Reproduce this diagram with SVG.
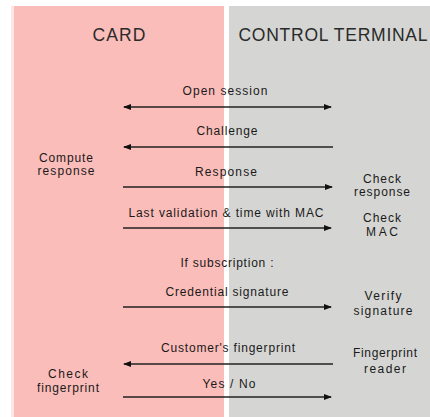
<svg xmlns="http://www.w3.org/2000/svg" width="430" height="417" viewBox="0 0 430 417">
<style>
.t{font-family:"Liberation Sans",Arial,sans-serif;font-size:12px;fill:#1a1a1a;text-anchor:middle}
.h{font-family:"Liberation Sans",Arial,sans-serif;font-size:17.5px;fill:#2a2a2a;text-anchor:middle}
.c line{stroke:#222;stroke-width:1.4}
</style>
<defs>
<marker id="ah" viewBox="0 0 8 6" refX="7" refY="3" markerWidth="8" markerHeight="6" markerUnits="userSpaceOnUse" orient="auto-start-reverse">
<path d="M0,0 L8,3 L0,6 z" fill="#111"/>
</marker>
</defs>
<rect x="0" y="0" width="430" height="417" fill="#fff"/>
<rect x="11" y="6" width="3" height="411" fill="#fde6e4"/>
<g id="card-lane">
<rect x="14" y="6" width="210" height="411" fill="#fbbdb9"/>
<text class="h" x="119" y="41" textLength="53" lengthAdjust="spacing">CARD</text>
</g>
<g id="terminal-lane">
<rect x="229" y="6" width="201" height="411" fill="#d5d6d3"/>
<text class="h" x="333" y="41" textLength="189" lengthAdjust="spacing">CONTROL TERMINAL</text>
</g>
<g id="connectors" class="c">
<line x1="124" y1="107" x2="331" y2="107" marker-start="url(#ah)" marker-end="url(#ah)"/>
<line x1="333" y1="147" x2="124" y2="147" marker-end="url(#ah)"/>
<line x1="123" y1="187" x2="332" y2="187" marker-end="url(#ah)"/>
<line x1="123" y1="228" x2="331" y2="228" marker-end="url(#ah)"/>
<line x1="123" y1="307" x2="331" y2="307" marker-end="url(#ah)"/>
<line x1="333" y1="364" x2="124" y2="364" marker-end="url(#ah)"/>
<line x1="123" y1="397" x2="331" y2="397" marker-end="url(#ah)"/>
</g>
<g id="labels">
<text class="t" x="225" y="95" textLength="85" lengthAdjust="spacing">Open session</text>
<text class="t" x="227" y="135" textLength="61" lengthAdjust="spacing">Challenge</text>
<text class="t" x="226" y="176" textLength="62" lengthAdjust="spacing">Response</text>
<text class="t" x="226" y="217" textLength="195" lengthAdjust="spacing">Last validation &amp; time with MAC</text>
<text class="t" x="227" y="267" textLength="93" lengthAdjust="spacing">If subscription :</text>
<text class="t" x="227" y="296" textLength="123" lengthAdjust="spacing">Credential signature</text>
<text class="t" x="228" y="352" textLength="134" lengthAdjust="spacing">Customer's fingerprint</text>
<text class="t" x="229" y="388" textLength="53" lengthAdjust="spacing">Yes / No</text>
</g>
<g id="compute-response">
<text class="t" x="66" y="162" textLength="54" lengthAdjust="spacing">Compute</text>
<text class="t" x="66" y="175" textLength="57" lengthAdjust="spacing">response</text>
</g>
<g id="check-response">
<text class="t" x="382" y="183" textLength="38" lengthAdjust="spacing">Check</text>
<text class="t" x="382" y="196" textLength="56" lengthAdjust="spacing">response</text>
</g>
<g id="check-mac">
<text class="t" x="382" y="222" textLength="38" lengthAdjust="spacing">Check</text>
<text class="t" x="382" y="236" textLength="32" lengthAdjust="spacing">MAC</text>
</g>
<g id="verify-signature">
<text class="t" x="383" y="300" textLength="37" lengthAdjust="spacing">Verify</text>
<text class="t" x="383" y="315" textLength="59" lengthAdjust="spacing">signature</text>
</g>
<g id="fingerprint-reader">
<text class="t" x="385" y="357" textLength="64" lengthAdjust="spacing">Fingerprint</text>
<text class="t" x="385" y="373" textLength="42" lengthAdjust="spacing">reader</text>
</g>
<g id="check-fingerprint">
<text class="t" x="68" y="378" textLength="40" lengthAdjust="spacing">Check</text>
<text class="t" x="68" y="392" textLength="62" lengthAdjust="spacing">fingerprint</text>
</g>
</svg>
